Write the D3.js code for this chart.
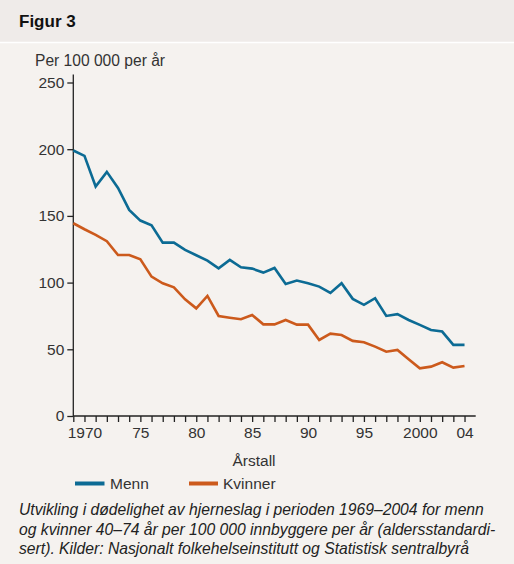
<!DOCTYPE html>
<html><head><meta charset="utf-8">
<script src="https://cdn.jsdelivr.net/npm/d3@7"></script>
<style>
html,body{margin:0;padding:0;background:#f5f2ef;}
svg{display:block;font-family:"Liberation Sans",Arial,sans-serif;}
</style></head>
<body>
<script>
const years = d3.range(1969, 2005);
const menn = [199,195,172,183,171,154.5,146.5,143,130,130,124.5,120.5,116.5,110.7,117,111.5,110.5,107.5,111,99,101.5,99.5,97,92.3,99.5,87.8,83.3,88.3,75,76.3,72,68.3,64.5,63.3,53.3,53.3];
const kvinner = [144.5,140,135.8,131,120.7,120.7,117.5,104.5,99.5,96.5,87.5,80.7,90,75,73.7,72.5,75.7,68.7,68.7,72,68.5,68.5,57,61.7,60.7,56.3,55.3,52,48.2,49.5,42.5,35.7,37,40.3,36.3,37.5];
const yTicks = [0,50,100,150,200,250];
const xLabels = {1970:"1970",1975:"75",1980:"80",1985:"85",1990:"90",1995:"95",2000:"2000",2004:"04"};
const seriesNames = ["Menn","Kvinner"];
const colors = ["#0c6b94","#cc5a1c"];

const W=514,H=564;
const svg=d3.select("body").append("svg").attr("width",W).attr("height",H);
svg.append("rect").attr("width",W).attr("height",H).attr("fill","#f5f2ef");
svg.append("rect").attr("width",W).attr("height",42).attr("fill","#efebe9");
svg.append("line").attr("x1",0).attr("x2",W).attr("y1",42.5).attr("y2",42.5).attr("stroke","#ffffff").attr("stroke-width",1.5);
svg.append("text").attr("x",19).attr("y",27).attr("font-size",17).attr("font-weight","bold").attr("fill","#111").text("Figur 3");
svg.append("text").attr("x",35).attr("y",66).attr("font-size",15.6).attr("fill","#333").text("Per 100 000 per år");

const x=d3.scaleLinear().domain([1969,2005]).range([73.3,475.7]);
const y=d3.scaleLinear().domain([0,250]).range([416,82.5]);

const yAxis=svg.append("g").attr("transform","translate(73.3,0)")
  .call(d3.axisLeft(y).tickValues(yTicks).tickSize(6).tickPadding(3));
yAxis.select(".domain").attr("d",`M0,${y(0)}V${y(250)-8}`);
const xAxis=svg.append("g").attr("transform",`translate(0,${y(0)})`)
  .call(d3.axisBottom(x).tickValues(years).tickSize(6).tickPadding(5).tickFormat(d=>xLabels[d]||""));
xAxis.select(".domain").attr("d",`M${x(1969)},0H${x(2005)}`);
[yAxis,xAxis].forEach(g=>{
  g.selectAll(".domain,line").attr("stroke","#222").attr("stroke-width",1.3);
  g.selectAll("text").attr("font-size",15.5).attr("fill","#333").attr("font-family","Liberation Sans, Arial, sans-serif");
});

const line=d3.line().x((d,i)=>x(years[i])).y(d=>y(d));
[menn,kvinner].forEach((s,i)=>{
  svg.append("path").datum(s).attr("d",line).attr("fill","none").attr("stroke",colors[i]).attr("stroke-width",2.6).attr("stroke-linejoin","miter");
});

svg.append("text").attr("x",254).attr("y",466).attr("text-anchor","middle").attr("font-size",15.5).attr("fill","#333").text("Årstall");

const lg=[{x1:75,x2:104.5,tx:110},{x1:189,x2:218,tx:223}];
lg.forEach((l,i)=>{
  svg.append("line").attr("x1",l.x1).attr("x2",l.x2).attr("y1",483.5).attr("y2",483.5).attr("stroke",colors[i]).attr("stroke-width",4);
  svg.append("text").attr("x",l.tx).attr("y",489).attr("font-size",15.5).attr("fill","#333").text(seriesNames[i]);
});

const caption=["Utvikling i dødelighet av hjerneslag i perioden 1969–2004 for menn",
"og kvinner 40–74 år per 100 000 innbyggere per år (aldersstandardi-",
"sert). Kilder: Nasjonalt folkehelseinstitutt og Statistisk sentralbyrå"];
caption.forEach((t,i)=>{
  svg.append("text").attr("x",19).attr("y",515+i*19.5).attr("font-size",15.7).attr("font-style","italic").attr("fill","#222").text(t);
});
</script>
</body></html>
